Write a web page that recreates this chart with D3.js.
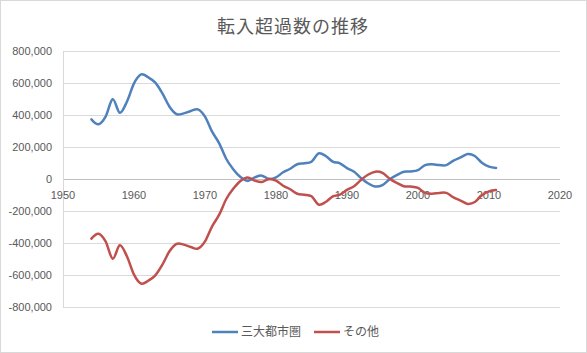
<!DOCTYPE html>
<html>
<head>
<meta charset="utf-8">
<script src="https://cdn.jsdelivr.net/npm/d3@7"></script>
<style>
  body { margin: 0; background: #fff; }
  #chart { width: 587px; height: 353px; }
  text { fill: #595959; }
</style>
</head>
<body>
<div id="chart"></div>
<script>
// 年次
let years = d3.range(1954, 2012);

// 三大都市圏の転入超過数
let sandai = [
    373000, 342000, 390000, 498000, 414000, 483000, 598000, 654000, 636000, 602000,
    535000, 452000, 406000, 410000, 425000, 435000, 390000, 296000, 223000, 125000,
    60000, 12000, -12000, 10000, 21000, 0, 10000, 42000, 64000, 92000,
    98000, 108000, 160000, 144000, 108000, 98000, 68000, 45000, 5000, -28000,
    -47000, -38000, -2000, 24000, 45000, 47000, 56000, 87000, 92000, 87000,
    87000, 115000, 135000, 156000, 144000, 102000, 77000, 69000
];

// その他の転入超過数
let sonota = [
    -373000, -342000, -390000, -498000, -414000, -483000, -598000, -654000, -636000, -602000,
    -535000, -452000, -406000, -410000, -425000, -435000, -390000, -296000, -223000, -125000,
    -60000, -12000, 10000, -10000, -19000, 0, -10000, -42000, -64000, -92000,
    -98000, -108000, -160000, -144000, -108000, -98000, -68000, -45000, -5000, 28000,
    46000, 38000, 2000, -24000, -45000, -47000, -56000, -87000, -92000, -87000,
    -87000, -115000, -135000, -156000, -144000, -102000, -77000, -69000
];

let xTicks = [1950, 1960, 1970, 1980, 1990, 2000, 2010, 2020];
let yTicks = [-800000, -600000, -400000, -200000, 0, 200000, 400000, 600000, 800000];
let seriesNames = ["三大都市圏", "その他"];
let colors = ["#4f81bd", "#c0504d"];

let width = 587, height = 353;
let plotLeft = 63, plotRight = 560, plotTop = 51, plotBottom = 307;

let svg = d3.select("#chart").append("svg")
    .attr("width", width)
    .attr("height", height);

svg.append("rect")
    .attr("x", 0.5).attr("y", 0.5)
    .attr("width", width - 1).attr("height", height - 1)
    .attr("fill", "#fff")
    .attr("stroke", "#d9d9d9");

svg.append("text")
    .attr("x", 293)
    .attr("y", 33)
    .attr("text-anchor", "middle")
    .style("font-family", "'Noto Sans CJK JP', sans-serif")
    .style("font-size", "18px")
    .style("letter-spacing", "1px")
    .text("転入超過数の推移");

let x = d3.scaleLinear().domain([1950, 2020]).range([plotLeft, plotRight]);
let y = d3.scaleLinear().domain([-800000, 800000]).range([plotBottom, plotTop]);

let fmt = d3.formatLocale({decimal: ".", thousands: ",", grouping: [3], currency: ["", ""], minus: "-"}).format(",");

// grid
svg.append("g")
    .selectAll("line")
    .data(yTicks)
    .enter().append("line")
    .attr("x1", plotLeft).attr("x2", plotRight)
    .attr("y1", d => Math.round(y(d)) + 0.5)
    .attr("y2", d => Math.round(y(d)) + 0.5)
    .attr("stroke", d => d === 0 ? "#bfbfbf" : "#d9d9d9")
    .attr("stroke-width", 1);

svg.append("line")
    .attr("x1", plotLeft + 0.5).attr("x2", plotLeft + 0.5)
    .attr("y1", plotTop).attr("y2", plotBottom)
    .attr("stroke", "#d9d9d9");

// y labels
svg.append("g")
    .selectAll("text")
    .data(yTicks)
    .enter().append("text")
    .attr("x", 52)
    .attr("y", d => y(d))
    .attr("dy", "0.35em")
    .attr("text-anchor", "end")
    .style("font-family", "'Liberation Sans', Arial, sans-serif")
    .style("font-size", "11px")
    .text(d => fmt(d));

// x labels
svg.append("g")
    .selectAll("text")
    .data(xTicks)
    .enter().append("text")
    .attr("x", d => x(d))
    .attr("y", y(0) + 16)
    .attr("dy", "0.35em")
    .attr("text-anchor", "middle")
    .style("font-family", "'Liberation Sans', Arial, sans-serif")
    .style("font-size", "11px")
    .text(d => d);

// lines
let line = d3.line()
    .x(d => x(d[0]))
    .y(d => y(d[1]))
    .curve(d3.curveCardinal.tension(0));

[sandai, sonota].forEach((vals, i) => {
    svg.append("path")
        .datum(years.map((yr, j) => [yr, vals[j]]))
        .attr("fill", "none")
        .attr("stroke", colors[i])
        .attr("stroke-width", 2.5)
        .attr("stroke-linejoin", "round")
        .attr("stroke-linecap", "round")
        .attr("d", line);
});

// legend
let legendX = [212, 314];
let legend = svg.append("g").attr("class", "legend");
seriesNames.forEach((name, i) => {
    legend.append("line")
        .attr("x1", legendX[i]).attr("x2", legendX[i] + 26)
        .attr("y1", 332).attr("y2", 332)
        .attr("stroke", colors[i])
        .attr("stroke-width", 2.5);
    legend.append("text")
        .attr("x", legendX[i] + 29)
        .attr("y", 332)
        .attr("dy", "0.35em")
        .style("font-family", "'Noto Sans CJK JP', sans-serif")
        .style("font-size", "12px")
        .text(name);
});
</script>
</body>
</html>
